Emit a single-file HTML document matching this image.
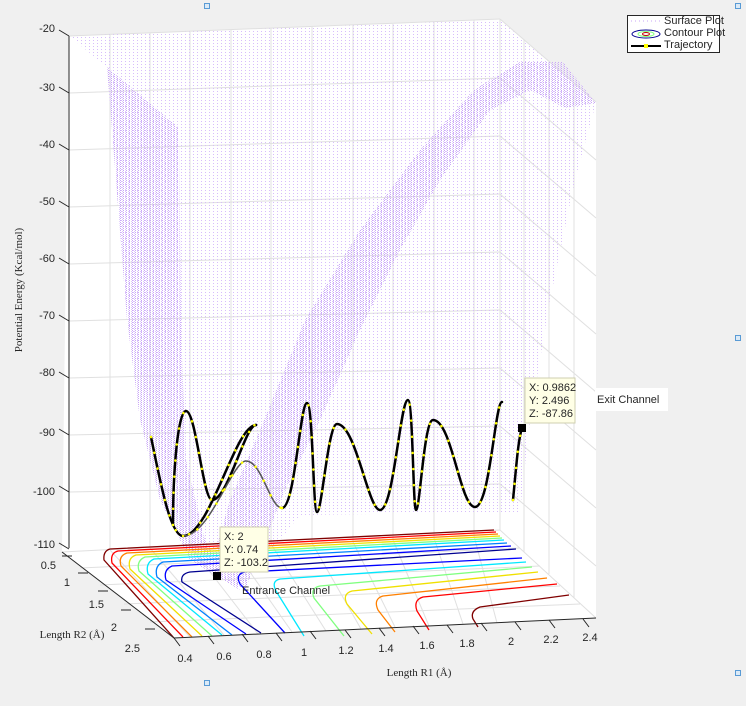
<!DOCTYPE html>
<html><head><meta charset="utf-8"><style>
html,body{margin:0;padding:0;background:#f0f0f0;}
svg{display:block;font-family:"Liberation Sans",sans-serif;}
.t{font-size:11px;fill:#262626;}
.s{font-family:"Liberation Serif",serif;font-size:11px;fill:#262626;}
</style></head><body>
<svg width="746" height="706" viewBox="0 0 746 706" xmlns="http://www.w3.org/2000/svg">
<defs>
<pattern id="p1" width="4" height="3" patternUnits="userSpaceOnUse"><rect x="1" y="1" width="1" height="1" fill="#d7bdfb"/></pattern>
<pattern id="p2" width="3" height="2" patternUnits="userSpaceOnUse"><rect x="0" y="0" width="1" height="1" fill="#c9a6f7"/><rect x="2" y="1" width="1" height="1" fill="#dcc6fb"/></pattern>
</defs>
<rect width="746" height="706" fill="#f0f0f0"/>
<polygon points="69,36 500,19 596,102 596,618 174,638 62,552" fill="#ffffff"/>
<g stroke="#e0e0e0" stroke-width="1" fill="none">
<line x1="69" y1="93" x2="500" y2="78"/><line x1="69" y1="150" x2="500" y2="136"/><line x1="69" y1="207" x2="500" y2="194"/>
<line x1="69" y1="264" x2="500" y2="252"/><line x1="69" y1="321" x2="500" y2="310"/><line x1="69" y1="378" x2="500" y2="368"/>
<line x1="69" y1="435" x2="500" y2="426"/><line x1="69" y1="492" x2="500" y2="484"/>
<line x1="110" y1="35" x2="110" y2="548"/><line x1="150" y1="33" x2="150" y2="547"/><line x1="190" y1="32" x2="190" y2="546"/>
<line x1="231" y1="30" x2="231" y2="545"/><line x1="271" y1="28" x2="271" y2="544"/><line x1="312" y1="27" x2="312" y2="543"/>
<line x1="353" y1="25" x2="353" y2="542"/><line x1="393" y1="24" x2="393" y2="540"/><line x1="434" y1="22" x2="434" y2="538"/>
<line x1="474" y1="20" x2="474" y2="536"/><line x1="500" y1="19" x2="500" y2="530"/>
<line x1="524" y1="40" x2="524" y2="552"/><line x1="549" y1="62" x2="549" y2="574"/><line x1="574" y1="83" x2="574" y2="598"/>
<line x1="500" y1="78" x2="596" y2="160"/><line x1="500" y1="136" x2="596" y2="218"/><line x1="500" y1="194" x2="596" y2="276"/>
<line x1="500" y1="252" x2="596" y2="334"/><line x1="500" y1="310" x2="596" y2="392"/><line x1="500" y1="368" x2="596" y2="450"/>
<line x1="500" y1="426" x2="596" y2="508"/><line x1="500" y1="484" x2="596" y2="566"/>
<line x1="500" y1="19" x2="596" y2="102"/><line x1="69" y1="36" x2="500" y2="19"/>
<line x1="62" y1="552" x2="500" y2="530"/>
<line x1="80" y1="568" x2="520" y2="548"/><line x1="100" y1="585" x2="540" y2="566"/><line x1="124" y1="604" x2="560" y2="586"/><line x1="150" y1="622" x2="580" y2="604"/>
<line x1="190" y1="637" x2="110" y2="550"/><line x1="224" y1="635" x2="150" y2="548"/><line x1="258" y1="634" x2="190" y2="546"/>
<line x1="292" y1="632" x2="231" y2="545"/><line x1="326" y1="631" x2="271" y2="544"/><line x1="361" y1="629" x2="312" y2="543"/>
<line x1="395" y1="627" x2="353" y2="542"/><line x1="429" y1="626" x2="393" y2="540"/><line x1="463" y1="624" x2="434" y2="538"/>
<line x1="497" y1="623" x2="474" y2="536"/><line x1="596" y1="618" x2="500" y2="530"/>
</g>
<polygon points="69,36 500,20 596,103 575,180 550,300 530,420 520,512 300,515 240,590 185,545 127,320 107,67" fill="url(#p1)"/>
<polygon points="69,36 107,67 179,128 181,330 186,460 205,540 240,590 190,560 160,500 140,420 127,320 107,67" fill="url(#p2)"/>
<polygon points="474,90 520,62 563,62 596,103 565,108 530,90 490,110 440,180 400,250 360,330 320,420 285,490 245,590 210,570 230,500 260,430 305,320 360,230 420,150" fill="url(#p2)"/>
<g fill="none" stroke-width="1.3">
<path d="M494,530 L110,549 Q103,551 104,560 L174,638" stroke="#800000"/>
<path d="M496,532 L118,551 Q110,553 112,563 L183,637" stroke="#ff0000"/>
<path d="M498,534 L127,553 Q118,556 121,566 L192,637" stroke="#ff8000"/>
<path d="M500,536 L136,555 Q127,558 130,569 L202,636" stroke="#f0e000"/>
<path d="M502,538 L145,557 Q136,561 139,571 L212,636" stroke="#80ff80"/>
<path d="M504,540 L154,559 Q145,563 148,574 L222,635" stroke="#00e8ff"/>
<path d="M507,543 L163,562 Q154,566 157,577 L232,635" stroke="#0080ff"/>
<path d="M511,546 L172,566 Q163,570 166,580 L246,634" stroke="#0000ff"/>
<path d="M516,549 L190,572 Q180,574 182,582 L261,633" stroke="#000090"/>
<path d="M522,558 L245,572 Q235,574 240,584 L285,633" stroke="#0000ff"/>
<path d="M526,562 L280,579 Q271,581 276,591 L304,636" stroke="#00e8ff"/>
<path d="M532,567 L320,586 Q310,588 314,598 L344,636" stroke="#80ff80"/>
<path d="M538,572 L352,591 Q342,594 347,604 L372,634" stroke="#f0e000"/>
<path d="M547,578 L383,596 Q373,599 378,610 L395,632" stroke="#ff8000"/>
<path d="M557,584 L423,597 Q413,600 417,611 L429,630" stroke="#ff0000"/>
<path d="M569,595 L480,607 Q470,611 473,619 L478,627" stroke="#800000"/>
</g>
<g stroke="#262626" stroke-width="1" fill="none">
<line x1="69" y1="36" x2="69" y2="548"/>
<line x1="62" y1="552" x2="174" y2="638"/>
<line x1="174" y1="638" x2="596" y2="618"/>
<path d="M59,30 L69,36 M59,87 L69,93 M59,144 L69,150 M59,201 L69,207 M59,258 L69,264 M59,315 L69,321 M59,372 L69,378 M59,429 L69,435 M59,486 L69,492 M59,543 L69,549"/>
<path d="M62,556 L72,556 M78,573 L88,573 M98,591 L108,591 M121,610 L131,610 M145,629 L155,629"/>
<path d="M174,638 L180,646 M208,636 L214,644 M242,634 L248,642 M276,633 L282,641 M310,631 L316,639 M345,630 L351,638 M379,628 L385,636 M413,626 L419,634 M447,625 L453,633 M481,623 L487,631 M515,622 L521,630 M549,620 L555,628 M583,619 L589,627"/>
</g>
<g class="t" text-anchor="end">
<text x="55" y="32">-20</text><text x="55" y="91">-30</text><text x="55" y="148">-40</text><text x="55" y="205">-50</text>
<text x="55" y="262">-60</text><text x="55" y="319">-70</text><text x="55" y="376">-80</text><text x="55" y="436">-90</text>
<text x="55" y="495">-100</text><text x="55" y="548">-110</text>
<text x="56" y="569">0.5</text><text x="70" y="586">1</text><text x="104" y="608">1.5</text><text x="117" y="631">2</text><text x="140" y="652">2.5</text>
</g>
<g class="t" text-anchor="middle">
<text x="185" y="662">0.4</text><text x="224" y="660">0.6</text><text x="264" y="658">0.8</text><text x="304" y="656">1</text>
<text x="346" y="654">1.2</text><text x="386" y="652">1.4</text><text x="427" y="649">1.6</text><text x="467" y="647">1.8</text>
<text x="511" y="645">2</text><text x="551" y="643">2.2</text><text x="590" y="641">2.4</text>
</g>
<text class="s" x="419" y="676" text-anchor="middle">Length R1 (Å)</text>
<text class="s" x="72" y="638" text-anchor="middle">Length R2 (Å)</text>
<text class="s" transform="translate(22,290) rotate(-90)" text-anchor="middle">Potential Energy (Kcal/mol)</text>
<g fill="none" stroke-linecap="round">
<path d="M151,437 C160,480 170,536 183,536 C210,536 235,425 256,425" stroke="#000" stroke-width="2.5"/>
<path d="M173,525 C173,470 178,411 186,411 C196,411 203,500 212,500 C228,500 245,425 256,425" stroke="#000" stroke-width="2.5"/>
<path d="M183,536 C210,536 232,461 246,461 C262,461 270,508 282,508" stroke="#555" stroke-width="1.5"/>
<path d="M282,508 C295,508 300,403 307,403 C313,403 313,512 317,512 C322,512 328,424 337,424 C356,424 368,510 380,510 C394,510 400,400 408,400 C413,400 413,510 416,510 C420,510 424,420 433,420 C452,420 460,507 475,507 C490,507 495,402 502,402" stroke="#000" stroke-width="2.5"/>
<path d="M513,500 C516,470 518,440 522,428" stroke="#000" stroke-width="2.5"/>
<g stroke="#ffff00" stroke-width="2.5" stroke-dasharray="0.1 16">
<path d="M151,437 C160,480 170,536 183,536 C210,536 235,425 256,425"/>
<path d="M173,525 C173,470 178,411 186,411 C196,411 203,500 212,500 C228,500 245,425 256,425"/>
<path d="M183,536 C210,536 232,461 246,461 C262,461 270,508 282,508"/>
<path d="M282,508 C295,508 300,403 307,403 C313,403 313,512 317,512 C322,512 328,424 337,424 C356,424 368,510 380,510 C394,510 400,400 408,400 C413,400 413,510 416,510 C420,510 424,420 433,420 C452,420 460,507 475,507 C490,507 495,402 502,402"/>
<path d="M513,500 C516,470 518,440 522,428"/>
</g>
</g>
<rect x="220" y="527" width="48" height="45" fill="#ffffe6" stroke="#cfcfb0"/>
<text class="t" x="224" y="540" font-size="10">X: 2</text><text class="t" x="224" y="553" font-size="10">Y: 0.74</text><text class="t" x="224" y="566" font-size="10">Z: -103.2</text>
<rect x="213" y="572" width="8" height="8" fill="#000"/>
<text class="t" x="242" y="594" font-size="10">Entrance Channel</text>
<rect x="525" y="378" width="50" height="45" fill="#ffffe6" stroke="#cfcfb0"/>
<text class="t" x="529" y="391" font-size="10">X: 0.9862</text><text class="t" x="529" y="404" font-size="10">Y: 2.496</text><text class="t" x="529" y="417" font-size="10">Z: -87.86</text>
<rect x="518" y="424" width="8" height="8" fill="#000"/>
<rect x="595" y="388" width="73" height="23" fill="#fff"/>
<text class="t" x="597" y="403" font-size="10">Exit Channel</text>
<rect x="627.5" y="15.5" width="92" height="37" fill="#fff" stroke="#262626"/>
<line x1="631" y1="21" x2="660" y2="21" stroke="#c9a6f7" stroke-dasharray="1 3"/>
<ellipse cx="646" cy="34" rx="14" ry="4" fill="none" stroke="#000090"/>
<ellipse cx="646" cy="34" rx="8" ry="2.5" fill="none" stroke="#80ff80"/>
<ellipse cx="646" cy="34" rx="3.5" ry="1.5" fill="none" stroke="#c00000"/>
<line x1="631" y1="46" x2="661" y2="46" stroke="#000" stroke-width="2"/>
<rect x="644" y="44" width="4" height="4" fill="#ffff00"/>
<g class="t" font-size="8.5"><text x="664" y="24">Surface Plot</text><text x="664" y="36">Contour Plot</text><text x="664" y="48">Trajectory</text></g>
<g fill="#dbeaf7" stroke="#5a9bd5">
<rect x="204.5" y="3.5" width="5" height="5"/><rect x="735.5" y="3.5" width="5" height="5"/>
<rect x="735.5" y="335.5" width="5" height="5"/><rect x="735.5" y="670.5" width="5" height="5"/><rect x="204.5" y="680.5" width="5" height="5"/>
</g>
</svg>
</body></html>
